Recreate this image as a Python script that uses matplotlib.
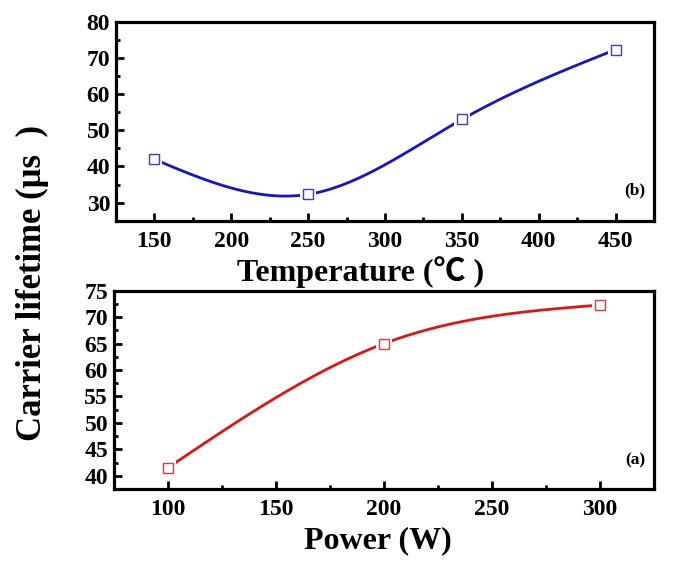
import numpy as np
import matplotlib
matplotlib.use("Agg")
import matplotlib.pyplot as plt
from matplotlib.ticker import MultipleLocator

plt.rcParams['font.family'] = ['Liberation Serif', 'DejaVu Sans']
plt.rcParams['font.weight'] = 'bold'

temp_x = [150, 250, 350, 450]
temp_y = [42.0, 32.3, 53.0, 72.3]
power_x = [100, 200, 300]
power_y = [41.5, 65.0, 72.3]


def natural_spline(x, y, n=300):
    x = np.asarray(x, float); y = np.asarray(y, float)
    m = len(x)
    h = np.diff(x)
    A = np.zeros((m, m)); b = np.zeros(m)
    A[0, 0] = 1; A[-1, -1] = 1
    for i in range(1, m - 1):
        A[i, i - 1] = h[i - 1]
        A[i, i] = 2 * (h[i - 1] + h[i])
        A[i, i + 1] = h[i]
        b[i] = 6 * ((y[i + 1] - y[i]) / h[i] - (y[i] - y[i - 1]) / h[i - 1])
    M = np.linalg.solve(A, b)
    xs = np.linspace(x[0], x[-1], n)
    ys = np.empty_like(xs)
    for k, xv in enumerate(xs):
        i = min(np.searchsorted(x, xv, side='right') - 1, m - 2)
        t0 = x[i + 1] - xv; t1 = xv - x[i]
        ys[k] = (M[i] * t0 ** 3 + M[i + 1] * t1 ** 3) / (6 * h[i]) \
            + (y[i] / h[i] - M[i] * h[i] / 6) * t0 \
            + (y[i + 1] / h[i] - M[i + 1] * h[i] / 6) * t1
    return xs, ys


fig = plt.figure(figsize=(6.85, 5.78), dpi=100)
ax1 = fig.add_axes([0.169, 0.618, 0.786, 0.3445])
ax2 = fig.add_axes([0.166, 0.154, 0.789, 0.343])


def style(ax):
    for s in ax.spines.values():
        s.set_linewidth(2.3)
    ax.tick_params(which='both', direction='in', top=False, right=False,
                   width=2, labelsize=17)
    ax.tick_params(axis='x', which='major', pad=7)
    ax.tick_params(axis='y', which='major', pad=4)
    ax.tick_params(which='major', length=6)
    ax.tick_params(which='minor', length=3)
    for lab in ax.get_xticklabels() + ax.get_yticklabels():
        lab.set_fontweight('bold')


def draw(ax, x, y, lc, mc):
    xs, ys = natural_spline(x, y)
    ax.plot(xs, ys, color=lc, lw=2, zorder=2)
    ax.plot(x, y, ls='none', marker='s', ms=11, mfc='white', mec='white',
            mew=0, zorder=3)
    ax.plot(x, y, ls='none', marker='s', ms=7, mfc='white', mec=mc,
            mew=1.0, zorder=4)


draw(ax1, temp_x, temp_y, '#1414cc', '#3a3ae0')
ax1.set_xlim(125, 475)
ax1.set_ylim(25, 80)
ax1.xaxis.set_major_locator(MultipleLocator(50))
ax1.xaxis.set_minor_locator(MultipleLocator(25))
ax1.yaxis.set_major_locator(MultipleLocator(10))
ax1.yaxis.set_minor_locator(MultipleLocator(5))
style(ax1)
ax1.set_xlabel('Temperature (\u2103 )', fontsize=23, fontweight='bold',
               family=['Liberation Serif', 'Noto Sans CJK SC'])
ax1.xaxis.set_label_coords(0.454, -0.175)
ax1.text(0.983, 0.154, '(b)', transform=ax1.transAxes, ha='right', va='center',
         fontsize=12.5, fontweight='bold')

draw(ax2, power_x, power_y, '#e01414', '#e03a3a')
ax2.set_xlim(75, 325)
ax2.set_ylim(37.5, 75)
ax2.xaxis.set_major_locator(MultipleLocator(50))
ax2.xaxis.set_minor_locator(MultipleLocator(25))
ax2.yaxis.set_major_locator(MultipleLocator(5))
ax2.yaxis.set_minor_locator(MultipleLocator(2.5))
style(ax2)
ax2.set_xlabel('Power (W)', fontsize=23, fontweight='bold')
ax2.xaxis.set_label_coords(0.489, -0.187)
ax2.text(0.983, 0.146, '(a)', transform=ax2.transAxes, ha='right', va='center',
         fontsize=12.5, fontweight='bold')

fig.text(0.048, 0.51, 'Carrier lifetime (\u03bcs  )', rotation=90, ha='center',
         va='center', fontsize=25, fontweight='bold')

fig.savefig('out.png', dpi=100)
